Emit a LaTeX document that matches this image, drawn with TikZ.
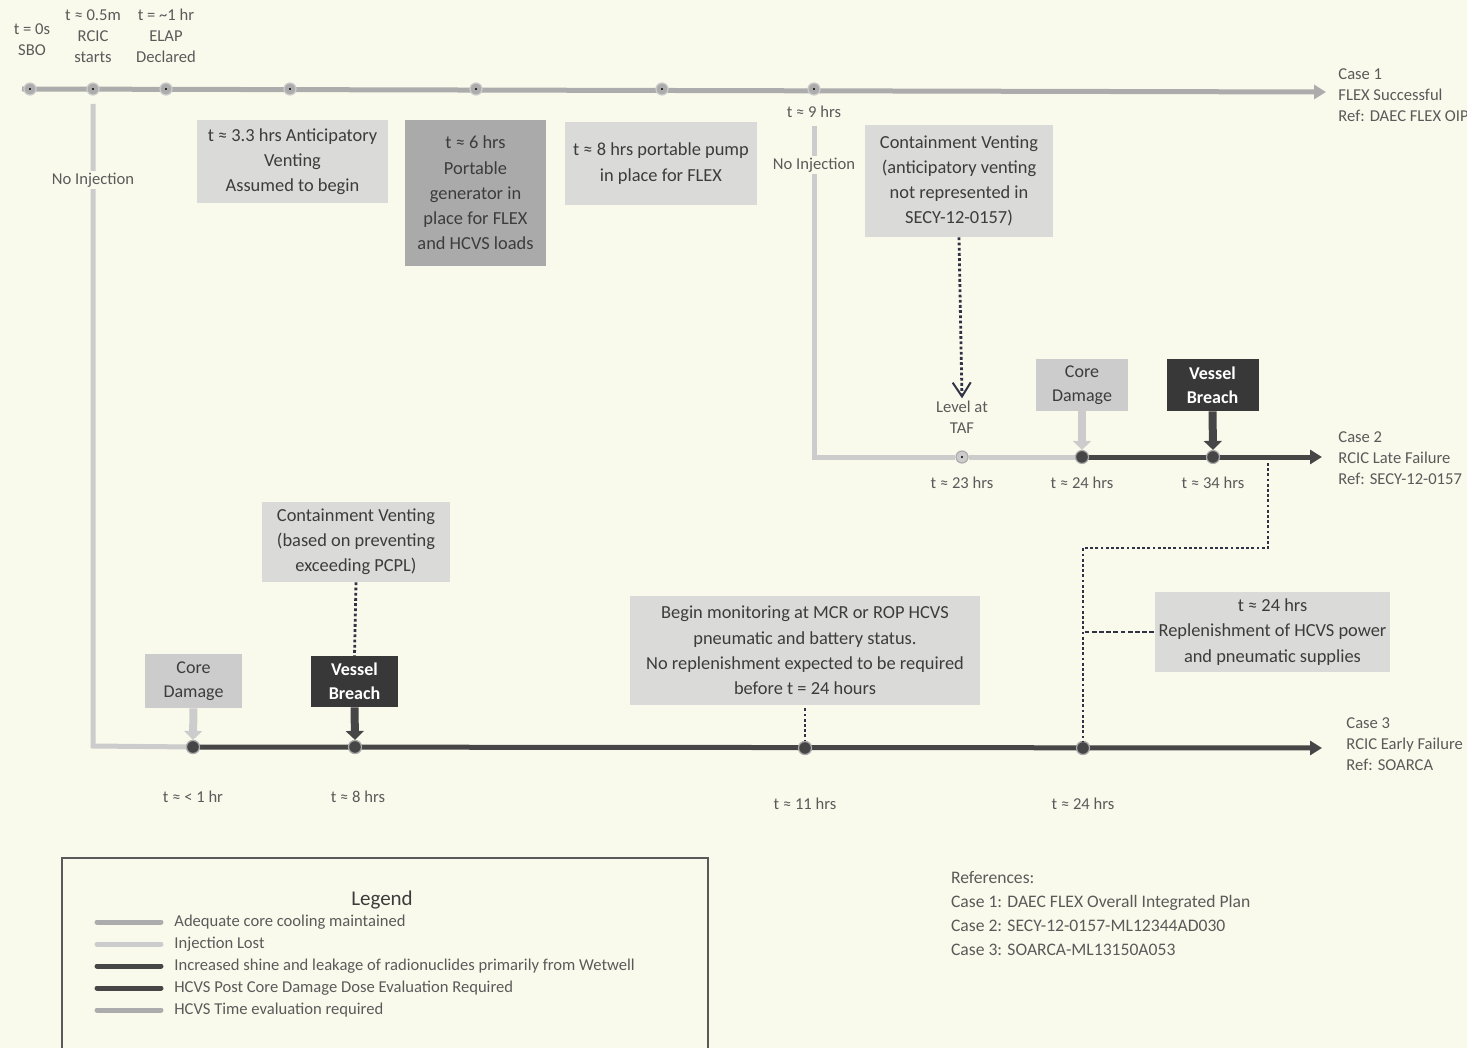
\documentclass[tikz,border=0pt]{standalone}
\usepackage{fontspec}
\setmainfont{Carlito}
\usetikzlibrary{arrows.meta,positioning}
\definecolor{paper}{RGB}{250,250,236}
\definecolor{ink}{RGB}{60,60,60}
\definecolor{softink}{RGB}{90,90,90}
\definecolor{okline}{RGB}{172,172,172}
\definecolor{lostline}{RGB}{204,204,204}
\definecolor{hotline}{RGB}{70,70,70}
\definecolor{boxlight}{RGB}{218,218,216}
\definecolor{boxmid}{RGB}{170,170,170}
\definecolor{boxdark}{RGB}{56,56,56}
\definecolor{dotink}{RGB}{50,50,70}

\tikzset{
  lbl/.style={text=softink,font=\fontsize{8.3}{10.5}\selectfont,align=center,inner sep=1pt},
  caselbl/.style={lbl,align=left,anchor=west},
  note/.style={text=ink,font=\fontsize{9.2}{12.6}\selectfont,align=center,fill=boxlight,inner sep=2pt},
  eventbox/.style={note,minimum width=46pt,minimum height=26pt,font=\fontsize{9}{12}\selectfont},
  breachbox/.style={eventbox,fill=boxdark,text=white,font=\bfseries\fontsize{9}{12}\selectfont},
  okpath/.style={draw=okline,line width=2.5pt},
  lostpath/.style={draw=lostline,line width=2.5pt},
  hotpath/.style={draw=hotline,line width=2.5pt},
  tip/.style={-{Triangle[length=6pt,width=7pt]}},
  fatarrow/.style={line width=4pt,-{Triangle[length=4.5pt,width=9pt]}},
  dotlink/.style={draw=dotink,line width=1.4pt,dash pattern=on 1.4pt off 1.2pt},
  dashlink/.style={draw=dotink,line width=1.2pt,dash pattern=on 2.4pt off 1.2pt},
  okdot/.style={circle,fill=okline,draw=lostline,line width=0.6pt,minimum size=6pt,inner sep=0pt},
  hotdot/.style={circle,fill=hotline,draw=okline,line width=0.6pt,minimum size=6.5pt,inner sep=0pt},
}

\begin{document}
\begin{tikzpicture}[x=0.5pt,y=-0.5pt]
\fill[paper] (0,0) rectangle (1467,1048);%
\useasboundingbox (0,0) rectangle (1467,1048);%
% case 1 timeline
\coordinate (c1start) at (22,89);%
\coordinate (c1end) at (1326,92);%
\draw[okpath,tip] (c1start) -- (c1end);%
\foreach \name/\xx in {sbo/30,rcic/93,elap/166,vent/290,gen/476,pump/662,nine/814}{%
  \node[okdot] (d\name) at (\xx,89) {};%
  \fill[black] (d\name) circle (0.6pt);%
}
\node[lbl] (lsbo) at (32,40) {t = 0s\\SBO};%
\node[lbl] (lrcic) at (93,36) {t ≈ 0.5m\\RCIC\\starts};%
\node[lbl] (lelap) at (166,36) {t = \textasciitilde1 hr\\ELAP\\Declared};%
\node[caselbl] (case1) at (1336,95) {Case 1\\FLEX Successful\\Ref: DAEC FLEX OIP};%
% case 1 notes
\node[note,minimum width=95.5pt,minimum height=41.5pt] (nvent) at (292.5,161.5) {t ≈ 3.3 hrs Anticipatory\\Venting\\Assumed to begin};%
\node[note,fill=boxmid,minimum width=70.5pt,minimum height=73pt] (ngen) at (475.5,193) {t ≈ 6 hrs\\Portable\\generator in\\place for FLEX\\and HCVS loads};%
\node[note,minimum width=96pt,minimum height=41.5pt] (npump) at (661,163.5) {t ≈ 8 hrs portable pump\\in place for FLEX};%
% case 2 timeline
\node[lbl] (lnine) at (814,112) {t ≈ 9 hrs};%
\coordinate (c2bend) at (814,457);%
\node[okdot,fill=lostline,draw=okline] (c2taf) at (962,457) {};%
\fill[black] (c2taf) circle (0.6pt);%
\coordinate (c2drop) at (1268,457);%
\coordinate (c2end) at (1322,457);%
\draw[lostpath] (lnine.south) ++(0,6) -- (c2bend) -- (c2taf) -- (1082,457);%
\draw[hotpath,tip] (1082,457) -- (c2end);%
\node[hotdot] (c2core) at (1082,457) {};%
\node[hotdot] (c2breach) at (1213,457) {};%
\node[lbl,fill=paper] (noinj2) at (814,165) {No Injection};%
\node[note,minimum width=94pt,minimum height=56pt] (cv2) at (959,181) {Containment Venting\\(anticipatory venting\\not represented in\\SECY-12-0157)};%
\node[lbl] (taf) at (962,417) {Level at\\TAF};%
\draw[dotlink,-{Straight Barb[length=7pt,width=9pt,line width=1pt]}] (cv2.south) -- (taf.north);%
\node[eventbox,fill=lostline,draw=none] (core2) at (1082,385) {Core\\Damage};%
\node[breachbox] (breach2) at (1212.5,385) {Vessel\\Breach};%
\draw[fatarrow,lostline] (core2.south) -- (c2core.north);%
\draw[fatarrow,hotline] (breach2.south) -- (c2breach.north);%
\node[lbl] (l23) at (962,483) {t ≈ 23 hrs};%
\node[lbl] (l24b) at (1082,483) {t ≈ 24 hrs};%
\node[lbl] (l34) at (1213,483) {t ≈ 34 hrs};%
\node[caselbl] (case2) at (1336,458) {Case 2\\RCIC Late Failure\\Ref: SECY-12-0157};%
% case 3 timeline
\coordinate (c3top) at (93,104);%
\coordinate (c3bend) at (93,746);%
\coordinate (c3end) at (1322,748);%
\node[hotdot] (c3core) at (193,747) {};%
\node[hotdot] (c3breach) at (355,747) {};%
\node[hotdot] (c3mon) at (805,748) {};%
\node[hotdot] (c3rep) at (1083,748) {};%
\draw[lostpath] (c3top) -- (c3bend) -- (c3core);%
\draw[hotpath,tip] (c3core) -- (c3end);%
\node[hotdot] at (c3core) {};%
\node[hotdot] at (c3breach) {};%
\node[hotdot] at (c3mon) {};%
\node[hotdot] at (c3rep) {};%
\node[lbl,fill=paper] (noinj3) at (93,180) {No Injection};%
\node[eventbox,fill=lostline,minimum width=48.5pt,minimum height=27pt] (core3) at (193.5,681) {Core\\Damage};%
\node[breachbox,minimum width=43.5pt,minimum height=25.5pt] (breach3) at (354.5,681.5) {Vessel\\Breach};%
\draw[fatarrow,lostline] (core3.south) -- (c3core.north);%
\draw[fatarrow,hotline] (breach3.south) -- (c3breach.north);%
\node[note,minimum width=94pt,minimum height=40pt] (cv3) at (356,542) {Containment Venting\\(based on preventing\\exceeding PCPL)};%
\draw[dotlink] (cv3.south) -- (breach3.north);%
\node[note,minimum width=175pt,minimum height=54.5pt] (mon) at (805,650.5) {Begin monitoring at MCR or ROP HCVS\\pneumatic and battery status.\\No replenishment expected to be required\\before t = 24 hours};%
\draw[dotlink] (mon.south) ++(0,3) -- (c3mon.north);%
\node[note,minimum width=117.5pt,minimum height=40pt] (rep) at (1272.5,632) {t ≈ 24 hrs\\Replenishment of HCVS power\\and pneumatic supplies};%
\draw[dotlink] (c2drop) ++(0,6) -- ++(0,85) -| (c3rep.north);%
\draw[dashlink] (rep.west) -- (rep.west -| c3rep);%
\node[lbl] (l1) at (193,797) {t ≈ < 1 hr};%
\node[lbl] (l8) at (358,797) {t ≈ 8 hrs};%
\node[lbl] (l11) at (805,804) {t ≈ 11 hrs};%
\node[lbl] (l24c) at (1083,804) {t ≈ 24 hrs};%
\node[caselbl] (case3) at (1344,744) {Case 3\\RCIC Early Failure\\Ref: SOARCA};%
% legend
\draw[draw=softink,line width=0.6pt] (62,1052) -- (62,858) -- (708,858) -- (708,1052);%
\node[text=ink,font=\fontsize{10.5}{12}\selectfont] (legend) at (382,900) {Legend};%
\foreach \yy/\col/\txt in {922/okline/Adequate core cooling maintained,
  944/lostline/Injection Lost,
  966/hotline/Increased shine and leakage of radionuclides primarily from Wetwell,
  988/hotline/HCVS Post Core Damage Dose Evaluation Required,
  1010/okline/HCVS Time evaluation required}{%
  \draw[draw=\col,line width=2.5pt,line cap=round] (97,\yy) -- (161,\yy);%
  \node[lbl,anchor=west] at (172,\yy) {\txt};%
}
% references
\node[text=softink,font=\fontsize{8.8}{12}\selectfont,align=left,anchor=north west] (refs) at (944,864) {References:\\Case 1: DAEC FLEX Overall Integrated Plan\\Case 2: SECY-12-0157-ML12344AD030\\Case 3: SOARCA-ML13150A053};%
\end{tikzpicture}
\end{document}
